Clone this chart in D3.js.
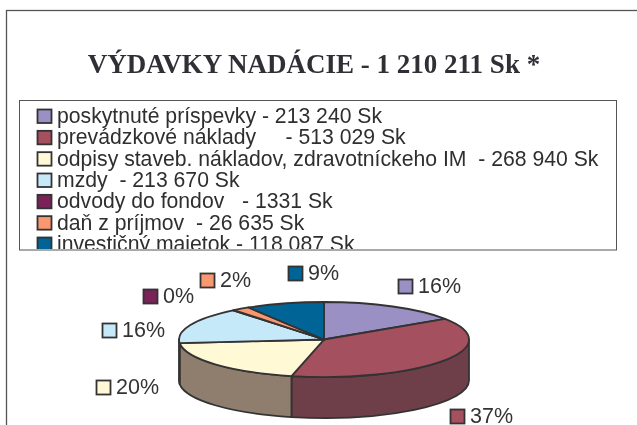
<!DOCTYPE html>
<html><head><meta charset="utf-8">
<script src="https://cdn.jsdelivr.net/npm/d3@7"></script>
<style>html,body{margin:0;padding:0;background:#fff;overflow:hidden}svg{display:block;filter:blur(0.35px)}</style></head>
<body><svg id="c" width="637" height="425"></svg>
<script>
const titleText = "VÝDAVKY NADÁCIE - 1 210 211 Sk *";
const categories = ["poskytnuté príspevky - 213 240 Sk","prevádzkové náklady     - 513 029 Sk","odpisy staveb. nákladov, zdravotníckeho IM  - 268 940 Sk","mzdy  - 213 670 Sk","odvody do fondov   - 1331 Sk","daň z príjmov  - 26 635 Sk","investičný majetok - 118 087 Sk"];
const values = [213240,513029,268940,213670,1331,26635,118087];
const percentLabels = ["16%","37%","20%","16%","0%","2%","9%"];
const colors = ["#9b90c4","#a5505f","#fff9d6","#c6e9fa","#7b2358","#f99870","#006496"];
const wallColors = ["#5f5878","#6e3f49","#8f7e6e","#7a8e98","#4a1536","#96583f","#003c5a"];
const labelX = [398,450,96,102,143,200,288];
const labelY = [279,409,380,323,289,273,266];

const ink = "#333";
const svg = d3.select("#c");
svg.append("rect").attr("x",6.5).attr("y",10.5).attr("width",700).attr("height",500).attr("fill","#fff").attr("stroke","#555").attr("stroke-width",1.3);
svg.append("text").attr("x",314).attr("y",73).attr("text-anchor","middle")
  .attr("font-family","Liberation Serif").attr("font-weight","bold").attr("font-size",27).attr("fill","#2f2f35").text(titleText);

svg.append("defs").append("clipPath").attr("id","lg").append("rect").attr("x",20).attr("y",101).attr("width",597).attr("height",148);
svg.append("rect").attr("x",19.5).attr("y",100.5).attr("width",597).attr("height",149.5).attr("fill","#fff").attr("stroke","#555").attr("stroke-width",1);
const rowY = d3.scaleLinear().domain([0,6]).range([116,244]);
const lg = svg.append("g").attr("clip-path","url(#lg)");
const rows = lg.selectAll("g").data(categories).join("g").attr("transform",(d,i)=>`translate(0,${rowY(i)})`);
rows.append("rect").attr("x",37.5).attr("y",-6.5).attr("width",14).attr("height",13.5).attr("fill",(d,i)=>colors[i]).attr("stroke",ink).attr("stroke-width",1.8);
rows.append("text").attr("x",57).attr("y",7).style("white-space","pre")
  .attr("font-family","Liberation Sans").attr("font-size",21.2).attr("fill","#2f2f2f").text(d=>d);

const cx=324, cy=339.5, rx=145, ry=37.5, depth=41;
const arcs = d3.pie().sort(null).value(d=>d)(values);
const px = a => cx + rx*Math.sin(a), py = a => cy - ry*Math.cos(a);
const wall = svg.append("g");
const PI = Math.PI;
arcs.forEach((a,i)=>{
  const s = Math.max(a.startAngle,PI/2), e = Math.min(a.endAngle,3*PI/2);
  if (e<=s) return;
  wall.append("path").attr("d",
    `M${px(s)},${py(s)}A${rx},${ry} 0 0 1 ${px(e)},${py(e)}L${px(e)},${py(e)+depth}A${rx},${ry} 0 0 0 ${px(s)},${py(s)+depth}Z`)
    .attr("fill",wallColors[i]).attr("stroke",ink).attr("stroke-width",1.8).attr("stroke-linejoin","round");
});
const arc = d3.arc().innerRadius(0).outerRadius(1);
svg.append("g").attr("transform",`translate(${cx},${cy}) scale(${rx},${ry})`)
  .selectAll("path").data(arcs).join("path").attr("d",arc).attr("fill",(d,i)=>colors[i])
  .attr("stroke",ink).attr("stroke-width",1.8).attr("vector-effect","non-scaling-stroke").attr("stroke-linejoin","round");

const lb = svg.append("g").selectAll("g").data(percentLabels).join("g").attr("transform",(d,i)=>`translate(${labelX[i]},${labelY[i]})`);
lb.append("rect").attr("x",.5).attr("y",.5).attr("width",14).attr("height",14).attr("fill",(d,i)=>colors[i]).attr("stroke",ink).attr("stroke-width",1.8);
lb.append("text").attr("x",20).attr("y",14).attr("font-family","Liberation Sans").attr("font-size",21.5).attr("fill","#333").text(d=>d);
</script></body></html>
